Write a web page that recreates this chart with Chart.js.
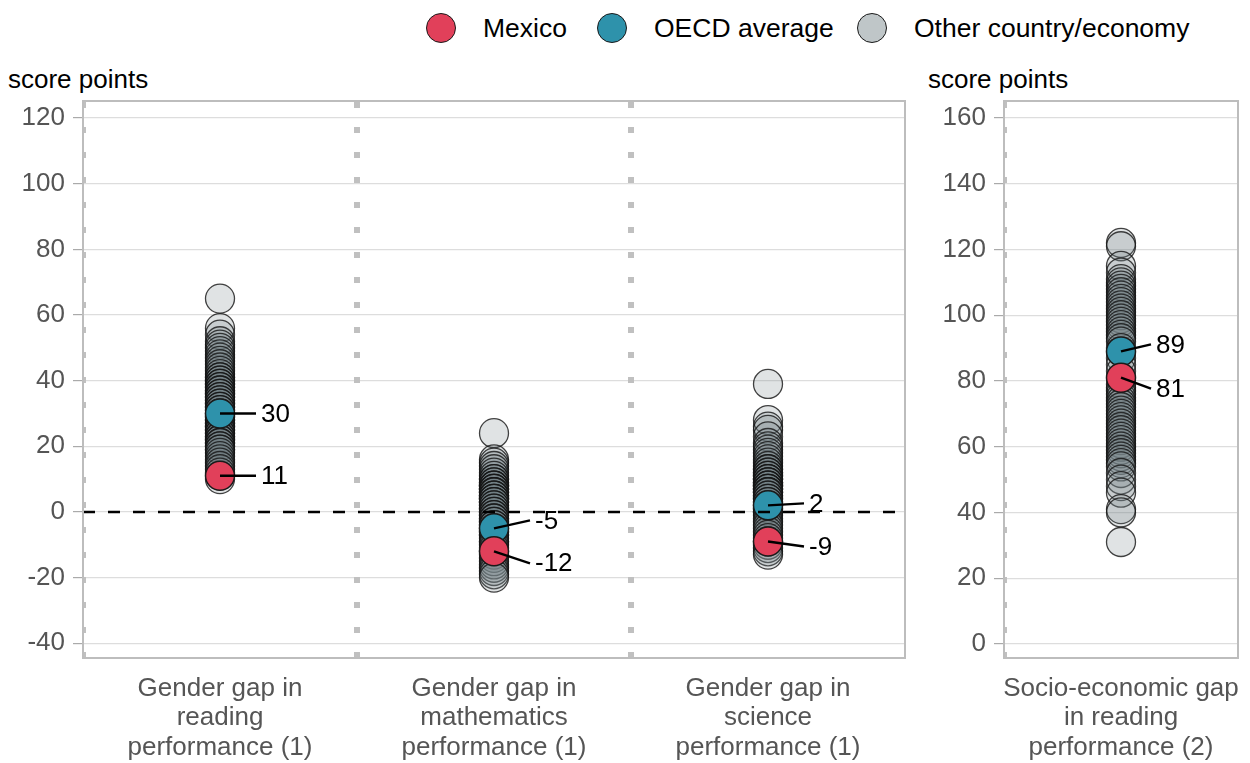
<!DOCTYPE html>
<html>
<head>
<meta charset="utf-8">
<script src="https://cdn.jsdelivr.net/npm/chart.js@4.4.1/dist/chart.umd.min.js"></script>
<style>
  body { margin: 0; background: #fff; font-family: "Liberation Sans", Arial, sans-serif; }
  #wrap { position: relative; width: 1250px; height: 763px; overflow: hidden; }
  .unit { position: absolute; top: 65px; font-size: 26px; line-height: 28px; color: #000; }
  .lg { position: absolute; top: 13px; height: 30px; display: flex; align-items: center; font-size: 26.5px; color: #000; white-space: nowrap; }
  .sw { width: 30px; height: 30px; border-radius: 50%; border: 1.5px solid #1a1a1a; margin-right: 27px; box-sizing: border-box; }
  #left { position: absolute; left: 0; top: 0; }
  #right { position: absolute; left: 915px; top: 0; }
</style>
</head>
<body>
<div id="wrap">
  <div class="lg" style="left:426px"><span class="sw" style="background:#E1405A"></span>Mexico</div>
  <div class="lg" style="left:597px"><span class="sw" style="background:#2E92AB"></span>OECD average</div>
  <div class="lg" style="left:857px"><span class="sw" style="background:#BFC6C8"></span>Other country/economy</div>
  <div class="unit" style="left:8px">score points</div>
  <div class="unit" style="left:928px">score points</div>
  <canvas id="left" width="915" height="763"></canvas>
  <canvas id="right" width="335" height="763"></canvas>
</div>
<script>
// categories
const gapLabels = [
  ['Gender gap in', 'reading', 'performance (1)'],
  ['Gender gap in', 'mathematics', 'performance (1)'],
  ['Gender gap in', 'science', 'performance (1)'],
];
const sesLabels = [['Socio-economic gap', 'in reading', 'performance (2)']];

// y tick labels
const gapTicks = [-40, -20, 0, 20, 40, 60, 80, 100, 120];
const sesTicks = [0, 20, 40, 60, 80, 100, 120, 140, 160];

// highlighted values
const mexicoGaps = [11, -12, -9];
const oecdGaps = [30, -5, 2];
const mexicoSes = [81];
const oecdSes = [89];

// other countries / economies
const readingOthers = [65, 56, 54, 52, 51, 50, 49, 48, 47, 46, 45, 44, 43, 42, 41, 41, 40, 40, 39, 39, 38, 38,
  37, 37, 36, 36, 35, 35, 34, 34, 33, 33, 32, 32, 31, 31, 30, 29, 29, 28, 28, 27, 27, 26, 26, 25, 25, 24, 24,
  23, 23, 22, 22, 21, 21, 20, 20, 19, 19, 18, 17, 16, 15, 14, 13, 12, 10];
const mathOthers = [24, 16, 15, 14, 13, 12, 11, 10, 10, 9, 9, 8, 8, 8, 7, 7, 7, 6, 6, 6, 5, 5, 5, 4, 4, 4, 3, 3,
  3, 2, 2, 1, 1, 0, 0, -1, -1, -2, -2, -3, -3, -4, -4, -5, -6, -6, -7, -7, -8, -9, -9, -10, -11, -12, -13,
  -14, -15, -16, -17, -18, -19, -20];
const scienceOthers = [39, 28, 26, 25, 23, 21, 20, 19, 18, 17, 16, 15, 14, 13, 13, 12, 12, 11, 11, 10, 10, 10,
  9, 9, 9, 8, 8, 8, 7, 7, 7, 6, 6, 6, 5, 5, 4, 4, 3, 3, 2, 1, 1, 0, 0, -1, -2, -3, -4, -5, -6, -7, -8, -9, -10,
  -11, -12, -13];
const sesOthers = [122, 121, 115, 113, 111, 110, 109, 108, 107, 106, 105, 104, 103, 102, 101, 100, 99, 98, 97,
  96, 95, 94, 93, 92, 90, 87, 85, 83, 79, 78, 77, 76, 75, 74, 73, 72, 71, 70, 69, 68, 67, 66, 65, 64, 63, 62,
  61, 60, 59, 58, 57, 56, 55, 54, 52, 50, 48, 46, 41, 40, 31];

const RED = '#E1405A';
const BLUE = '#2E92AB';
const GREY_FILL = 'rgba(112,128,132,0.22)';
const GREY_EDGE = 'rgba(20,20,20,0.8)';
const FONT = '"Liberation Sans", Arial, sans-serif';

function pts(values, i) {
  return values.map(v => ({ x: i, y: v }));
}

// dotted separators between categories, dashed zero line, leader labels, frame
const decor = {
  id: 'decor',
  beforeDatasetsDraw(chart) {
    const { ctx, chartArea: a, scales: { x } } = chart;
    ctx.save();
    ctx.beginPath();
    ctx.rect(a.left, a.top, a.right - a.left, a.bottom - a.top);
    ctx.clip();
    ctx.strokeStyle = '#c0c0c0';
    ctx.lineWidth = 6;
    ctx.setLineDash([6, 19]);
    for (let i = 0; i < chart.data.labels.length; i++) {
      const px = x.getPixelForValue(i - 0.5);
      ctx.beginPath();
      ctx.moveTo(px, a.bottom);
      ctx.lineTo(px, a.top);
      ctx.stroke();
    }
    ctx.restore();
  },
  afterDatasetsDraw(chart, args, opts) {
    const { ctx, chartArea: a, scales: { x, y } } = chart;
    ctx.save();
    if (opts.zero) {
      const py = y.getPixelForValue(0);
      ctx.strokeStyle = '#000';
      ctx.lineWidth = 2.5;
      ctx.setLineDash([12, 13]);
      ctx.beginPath();
      ctx.moveTo(a.left, py);
      ctx.lineTo(a.right, py);
      ctx.stroke();
      ctx.setLineDash([]);
    }
    ctx.font = '26px ' + FONT;
    ctx.textBaseline = 'middle';
    ctx.fillStyle = '#000';
    (opts.notes || []).forEach(n => {
      const px = x.getPixelForValue(n.cat);
      const py = y.getPixelForValue(n.value);
      ctx.strokeStyle = '#000';
      ctx.lineWidth = 2.5;
      ctx.beginPath();
      ctx.moveTo(px, py);
      ctx.lineTo(px + n.dx, py + n.dy);
      ctx.stroke();
      ctx.fillText(String(n.value), px + n.dx + 5, py + n.dy + 1);
    });
    ctx.strokeStyle = '#bdbdbd';
    ctx.lineWidth = 2;
    ctx.strokeRect(a.left, a.top, a.right - a.left, a.bottom - a.top);
    ctx.restore();
  }
};

function makeChart(id, labels, ticks, mex, oecd, others, yMin, yMax, yWidth, padRight, notes, zero) {
  return new Chart(document.getElementById(id).getContext('2d'), {
    type: 'scatter',
    data: {
      labels: labels,
      datasets: [
        { label: 'Mexico', data: mex.map((v, i) => ({ x: i, y: v })),
          backgroundColor: RED, borderColor: '#1a1a1a', borderWidth: 1.5, pointRadius: 14.5 },
        { label: 'OECD average', data: oecd.map((v, i) => ({ x: i, y: v })),
          backgroundColor: BLUE, borderColor: '#1a1a1a', borderWidth: 1.5, pointRadius: 14.5 },
        { label: 'Other country/economy', data: [].concat(...others.map((vals, i) => pts(vals, i))),
          backgroundColor: GREY_FILL, borderColor: GREY_EDGE, borderWidth: 1.3, pointRadius: 14.5 },
      ],
    },
    options: {
      responsive: false,
      animation: false,
      events: [],
      layout: { autoPadding: false, padding: { top: 101, right: padRight, left: 0, bottom: 0 } },
      plugins: {
        legend: { display: false },
        tooltip: { enabled: false },
        decor: { notes: notes, zero: zero },
      },
      scales: {
        x: {
          type: 'linear',
          min: -0.5,
          max: labels.length - 0.5,
          grid: { display: false },
          border: { display: false },
          ticks: {
            color: '#555', font: { size: 26, family: FONT, lineHeight: 1.13 }, padding: 8, maxRotation: 0, autoSkip: false,
            callback: v => labels[v],
          },
          afterBuildTicks(s) { s.ticks = labels.map((l, i) => ({ value: i })); },
          afterFit(s) { s.height = 105; s.paddingLeft = 0; s.paddingRight = 0; },
        },
        y: {
          min: yMin,
          max: yMax,
          grid: { color: '#dddddd', lineWidth: 1.2, tickColor: '#aaaaaa', tickLength: 10 },
          border: { display: false },
          ticks: { color: '#555', font: { size: 26, family: FONT }, padding: 8 },
          afterBuildTicks(s) { s.ticks = ticks.map(v => ({ value: v })); },
          afterFit(s) { s.width = yWidth; },
        },
      },
    },
    plugins: [decor],
  });
}

makeChart('left', gapLabels, gapTicks, mexicoGaps, oecdGaps, [readingOthers, mathOthers, scienceOthers],
  -44.5, 125.2, 83, 10,
  [
    { cat: 0, value: oecdGaps[0], dx: 36, dy: 0 },
    { cat: 0, value: mexicoGaps[0], dx: 36, dy: 0 },
    { cat: 1, value: oecdGaps[1], dx: 36, dy: -8 },
    { cat: 1, value: mexicoGaps[1], dx: 36, dy: 12 },
    { cat: 2, value: oecdGaps[2], dx: 36, dy: -2 },
    { cat: 2, value: mexicoGaps[2], dx: 36, dy: 5 },
  ], true);

makeChart('right', sesLabels, sesTicks, mexicoSes, oecdSes, [sesOthers],
  -4.3, 165.2, 89, 12,
  [
    { cat: 0, value: oecdSes[0], dx: 30, dy: -7 },
    { cat: 0, value: mexicoSes[0], dx: 30, dy: 11 },
  ], false);
</script>
</body>
</html>
